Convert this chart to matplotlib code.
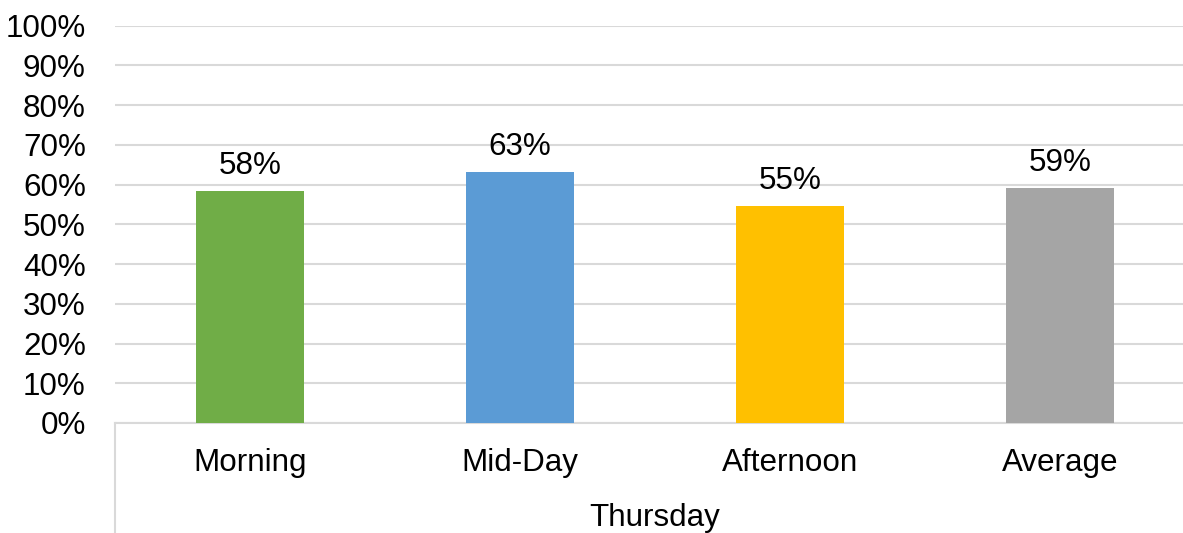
import matplotlib
matplotlib.use("Agg")
import matplotlib.pyplot as plt
from matplotlib.lines import Line2D

categories = ["Morning", "Mid-Day", "Afternoon", "Average"]
values = [58.4, 63.2, 54.6, 59.1]
labels = ["58%", "63%", "55%", "59%"]
colors = ["#70ad47", "#5b9bd5", "#ffc000", "#a5a5a5"]
group_label = "Thursday"
yticks = list(range(0, 101, 10))
ytick_labels = [f"{v}%" for v in yticks]

plt.rcParams['font.family'] = ['Liberation Sans', 'DejaVu Sans']
FS = 22.6

W, H = 1183, 533
fig = plt.figure(figsize=(W / 100, H / 100), dpi=100)
x0, x1 = 115, 1195
y0, y1 = 423, 25.7
ax = fig.add_axes([x0 / W, (H - y0) / H, (x1 - x0) / W, (y0 - y1) / H])

xs = list(range(len(categories)))
ax.bar(xs, values, width=0.4, color=colors, zorder=3)
ax.set_xlim(-0.5, len(categories) - 0.5)
ax.set_ylim(0, 100)
ax.set_yticks(yticks)
ax.set_yticklabels(ytick_labels, fontsize=FS)
ax.tick_params(axis='y', length=0, pad=21)
ax.set_xticks([])
ax.yaxis.grid(True, color="#d9d9d9", linewidth=1.5, zorder=0)
for s in ["top", "right", "left"]:
    ax.spines[s].set_visible(False)
ax.spines["bottom"].set_color("#d9d9d9")
ax.spines["bottom"].set_linewidth(1.5)

for x, v, lab in zip(xs, values, labels):
    ax.annotate(lab, (x, v), xytext=(0, 12.5), textcoords="offset points",
                ha="center", va="baseline", fontsize=FS, color="#000000")

scale = y0 - y1
for x, c in zip(xs, categories):
    ax.text(x, (y0 - 470.7) / scale, c, ha="center", va="baseline", fontsize=FS,
            transform=ax.get_xaxis_transform())
ax.text((len(categories) - 1) / 2, (y0 - 526) / scale, group_label, ha="center",
        va="baseline", fontsize=FS, transform=ax.get_xaxis_transform())

# multi-level category axis boundary line
ax.add_line(Line2D([-0.5, -0.5], [0, (y0 - H - 5) / scale], color="#d9d9d9",
                   linewidth=1.5, transform=ax.get_xaxis_transform(), clip_on=False))

fig.savefig("out.png", dpi=100)
